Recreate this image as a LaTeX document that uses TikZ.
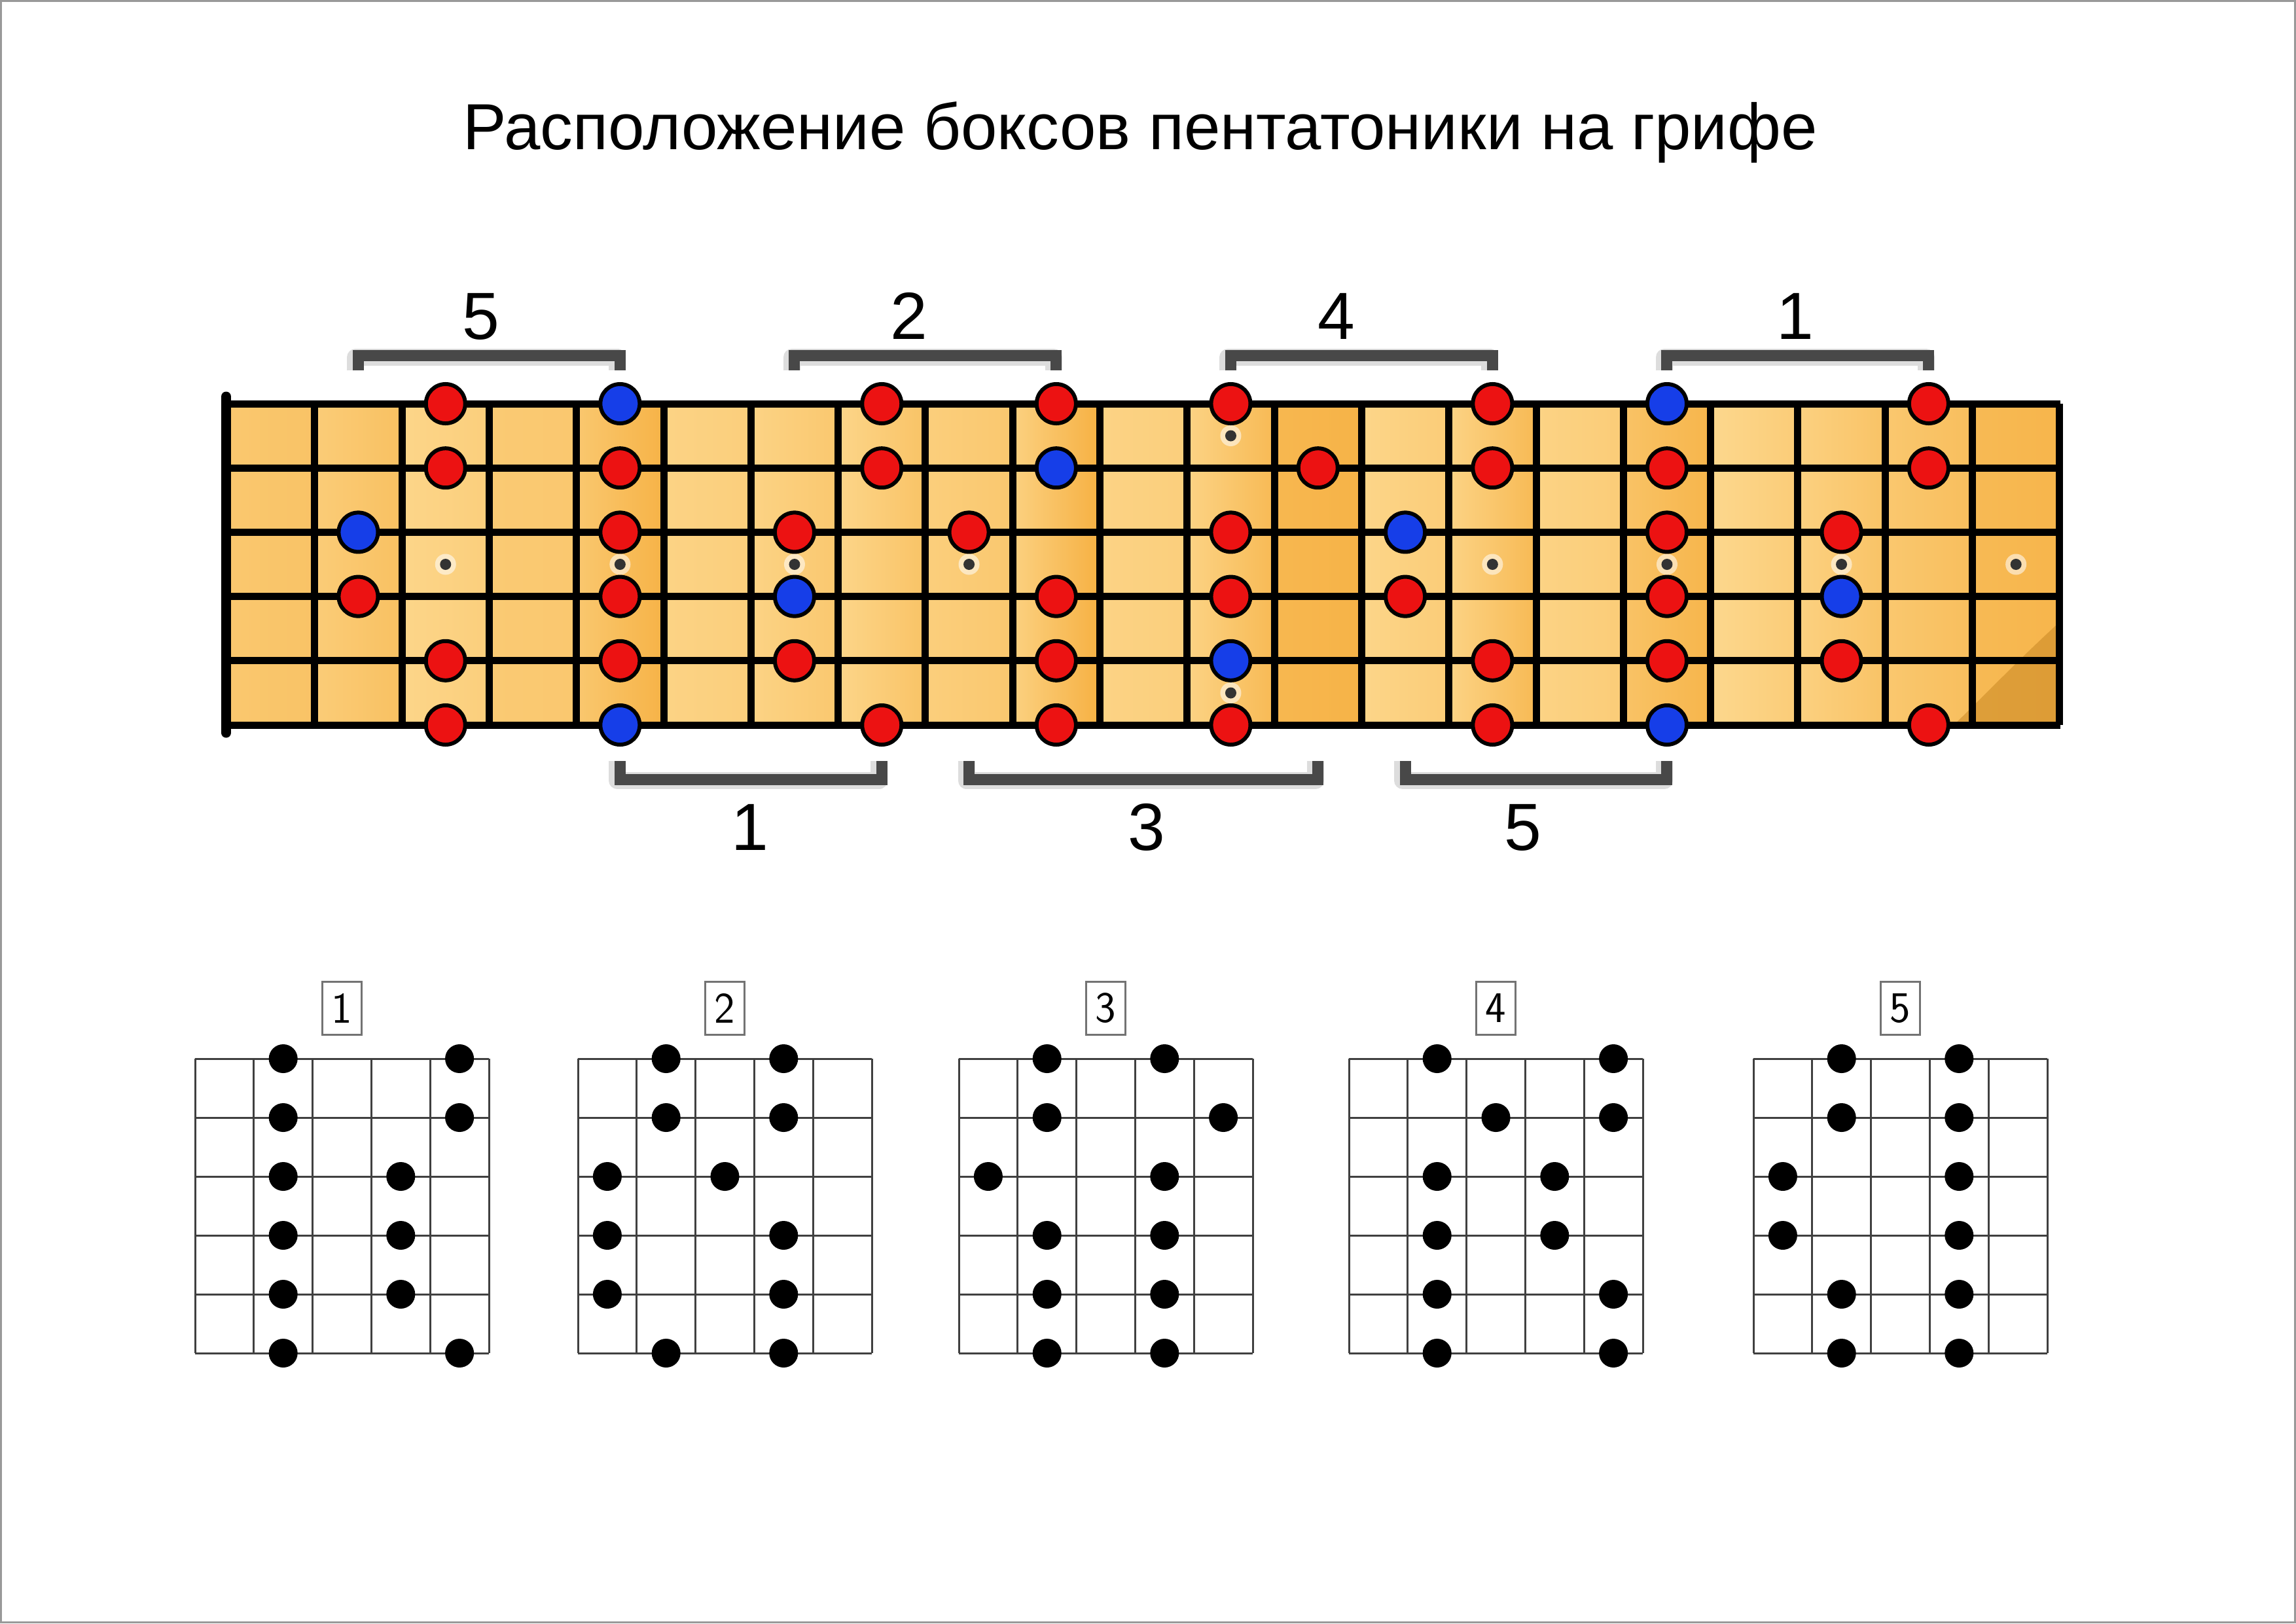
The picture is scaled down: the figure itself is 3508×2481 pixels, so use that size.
\documentclass[tikz,border=0pt]{standalone}
\usepackage{fontspec}
\setmainfont{Liberation Sans}
\usetikzlibrary{calc}
\definecolor{fbL}{RGB}{253,218,146}
\definecolor{fbD}{RGB}{245,172,58}
\definecolor{fbB}{RGB}{205,140,40}
\definecolor{nred}{RGB}{236,18,18}
\definecolor{nblue}{RGB}{22,62,232}
\definecolor{brk}{RGB}{72,72,72}
\begin{document}
\begin{tikzpicture}[x=0.01cm,y=-0.01cm,
  rnote/.style={circle,draw=black,line width=0.06cm,fill=nred,minimum size=0.6cm,inner sep=0pt},
  bnote/.style={rnote,fill=nblue},
  inlay/.style={circle,fill=black!80,minimum size=0.17cm,inner sep=0pt},
  halo/.style={circle,fill=white,opacity=0.55,minimum size=0.32cm,inner sep=0pt},
  fbline/.style={line width=0.11cm,black},
  bracket/.style={line width=0.17cm,brk,line join=miter},
  bshadow/.style={line width=0.26cm,black!22,line join=round,opacity=0.6},
  numlbl/.style={font=\fontsize{29}{31}\selectfont,anchor=base},
  dline/.style={line width=0.03cm,black!75},
  ddot/.style={circle,fill=black,minimum size=0.44cm,inner sep=0pt},
  boxlbl/.style={draw=black!55,line width=0.03cm,minimum width=0.6cm,minimum height=0.81cm,inner sep=0pt,font=\sffamily\fontsize{19}{20}\selectfont}
]
% page
\fill[white] (0,0) rectangle (3508,2481);
\draw[black!40,line width=0.03cm] (1.5,1.5) rectangle (3506.5,2479.5);
\useasboundingbox (0,0) rectangle (3508,2481);

% title
\node[font=\fontsize{28.3}{30}\selectfont,anchor=base] (title) at (1742,228) {Расположение боксов пентатоники на грифе};

% fretboard cells
\foreach \i/\a/\b in {1/40/50,2/30/55,3/10/25,4/35/40,5/40/85,6/15/25,7/15/40,8/10/50,9/25/40,10/20/90,
  11/15/25,12/15/70,13/75/85,14/10/30,15/15/70,16/15/30,17/50/80,18/5/30,19/20/50,20/40/60,21/70/80}{
  \shade[left color=fbD!\a!fbL,right color=fbD!\b!fbL]
    ({347.5+(\i-1)*133.3},617) rectangle ({347.5+\i*133.3},1108);
}
\fill[fbB,opacity=0.6] (3147.5,950) .. controls (3080,1012) and (3030,1065) .. (2985,1108) -- (3147.5,1108) -- cycle;

% frets and strings
\foreach \k in {1,...,21}{
  \draw[fbline] ({347.5+\k*133.3},617) -- ({347.5+\k*133.3},1108);
}
\foreach \s in {0,...,5}{
  \draw[fbline] (347.5,{617+\s*98.2}) -- (3147.5,{617+\s*98.2});
}
\draw[black,line width=0.15cm,line cap=round] (345.5,606) -- (345.5,1120);

% inlays
\foreach \c in {3,5,7,9,15,17,19,21}{
  \node[halo] at ({347.5+(\c-0.5)*133.3},862.5) {};
  \node[inlay] (in-\c) at ({347.5+(\c-0.5)*133.3},862.5) {};
}
\node[halo] at ({347.5+11.5*133.3},666) {};
\node[inlay] (in-12a) at ({347.5+11.5*133.3},666) {};
\node[halo] at ({347.5+11.5*133.3},1059) {};
\node[inlay] (in-12b) at ({347.5+11.5*133.3},1059) {};

% notes
\foreach \c/\s/\t in {2/3/bnote,2/4/rnote,
  3/1/rnote,3/2/rnote,3/5/rnote,3/6/rnote,
  5/1/bnote,5/2/rnote,5/3/rnote,5/4/rnote,5/5/rnote,5/6/bnote,
  7/3/rnote,7/4/bnote,7/5/rnote,
  8/1/rnote,8/2/rnote,8/6/rnote,
  9/3/rnote,
  10/1/rnote,10/2/bnote,10/4/rnote,10/5/rnote,10/6/rnote,
  12/1/rnote,12/3/rnote,12/4/rnote,12/5/bnote,12/6/rnote,
  13/2/rnote,
  14/3/bnote,14/4/rnote,
  15/1/rnote,15/2/rnote,15/5/rnote,15/6/rnote,
  17/1/bnote,17/2/rnote,17/3/rnote,17/4/rnote,17/5/rnote,17/6/bnote,
  19/3/rnote,19/4/bnote,19/5/rnote,
  20/1/rnote,20/2/rnote,20/6/rnote}{
  \node[\t] (n-\c-\s) at ({347.5+(\c-0.5)*133.3},{617+(\s-1)*98.2}) {};
}

% top brackets
\foreach \a/\b/\n/\lx in {2/5/5/735,7/10/2/1389,12/15/4/2042,17/20/1/2743}{
  \coordinate (ta\n) at ({347.5+(\a-0.5)*133.3},566);
  \coordinate (tb\n) at ({347.5+(\b-0.5)*133.3},566);
  \draw[bshadow] ($(ta\n)+(-4,0)$) -- ($(ta\n)+(-4,-20)$) -- ($(tb\n)+(-4,-20)$) -- ($(tb\n)+(-4,0)$);
  \draw[bracket] (ta\n) -- ($(ta\n)+(0,-22.5)$) -- ($(tb\n)+(0,-22.5)$) -- (tb\n);
  \node[numlbl] (tl\n) at (\lx,518) {\n};
}
% bottom brackets
\foreach \a/\b/\n/\lx in {5/8/1/1146,9/13/3/1752,14/17/5/2327}{
  \coordinate (ba\n) at ({347.5+(\a-0.5)*133.3},1163);
  \coordinate (bb\n) at ({347.5+(\b-0.5)*133.3},1163);
  \draw[bshadow] ($(ba\n)+(-4,0)$) -- ($(ba\n)+(-4,30)$) -- ($(bb\n)+(-4,30)$) -- ($(bb\n)+(-4,0)$);
  \draw[bracket] (ba\n) -- ($(ba\n)+(0,28)$) -- ($(bb\n)+(0,28)$) -- (bb\n);
  \node[numlbl] (bl\n) at (\lx,1299) {\n};
}

% box diagrams
\foreach \d/\gx in {1/298,2/883,3/1465,4/2061,5/2679}{
  \coordinate (g\d) at (\gx,1618);
  \foreach \k in {0,...,5}{
    \draw[dline] ({\gx+\k*89.8},1618) -- ({\gx+\k*89.8},2068);
    \draw[dline] (\gx,{1618+\k*90}) -- ({\gx+449},{1618+\k*90});
  }
  \node[boxlbl] (lb\d) at ({\gx+224.5},1541) {\d};
}
\foreach \d/\s/\c in {
  1/1/2,1/1/5,1/2/2,1/2/5,1/3/2,1/3/4,1/4/2,1/4/4,1/5/2,1/5/4,1/6/2,1/6/5,
  2/1/2,2/1/4,2/2/2,2/2/4,2/3/1,2/3/3,2/4/1,2/4/4,2/5/1,2/5/4,2/6/2,2/6/4,
  3/1/2,3/1/4,3/2/2,3/2/5,3/3/1,3/3/4,3/4/2,3/4/4,3/5/2,3/5/4,3/6/2,3/6/4,
  4/1/2,4/1/5,4/2/3,4/2/5,4/3/2,4/3/4,4/4/2,4/4/4,4/5/2,4/5/5,4/6/2,4/6/5,
  5/1/2,5/1/4,5/2/2,5/2/4,5/3/1,5/3/4,5/4/1,5/4/4,5/5/2,5/5/4,5/6/2,5/6/4}{
  \node[ddot] (dd-\d-\s-\c) at ($(g\d)+({(\c-0.5)*89.8},{(\s-1)*90})$) {};
}
\end{tikzpicture}
\end{document}
